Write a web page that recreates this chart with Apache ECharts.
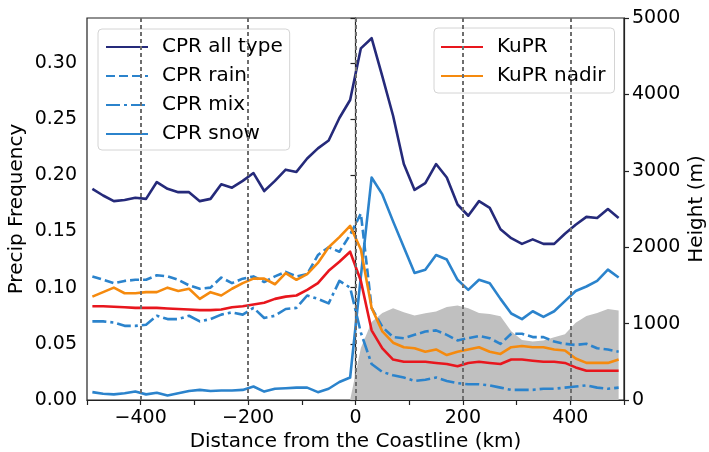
<!DOCTYPE html>
<html>
<head>
<meta charset="utf-8">
<script src="https://cdn.jsdelivr.net/npm/echarts@6/dist/echarts.min.js"></script>
<style>
  html, body { margin: 0; padding: 0; background: #fff; }
  #chart { width: 709px; height: 452px; }
</style>
</head>
<body>
<div id="chart"></div>
<script>
// distance from the coastline (km), bin centres
const distance = [-490, -470, -450, -430, -410, -390, -370, -350, -330, -310,
  -290, -270, -250, -230, -210, -190, -170, -150, -130, -110,
  -90, -70, -50, -30, -10, 10, 30, 50, 70, 90,
  110, 130, 150, 170, 190, 210, 230, 250, 270, 290,
  310, 330, 350, 370, 390, 410, 430, 450, 470, 490];

const cprAll = [0.188, 0.182, 0.177, 0.178, 0.180, 0.179, 0.194, 0.188, 0.185, 0.185,
  0.177, 0.179, 0.192, 0.189, 0.195, 0.202, 0.186, 0.195, 0.205, 0.203,
  0.215, 0.224, 0.231, 0.251, 0.267, 0.313, 0.322, 0.288, 0.253, 0.210,
  0.187, 0.193, 0.210, 0.198, 0.174, 0.164, 0.177, 0.171, 0.152, 0.144,
  0.139, 0.143, 0.139, 0.139, 0.148, 0.156, 0.163, 0.162, 0.170, 0.162];

const cprRain = [0.110, 0.107, 0.104, 0.106, 0.107, 0.107, 0.111, 0.110, 0.107, 0.102,
  0.099, 0.100, 0.109, 0.104, 0.108, 0.110, 0.105, 0.110, 0.114, 0.110,
  0.112, 0.129, 0.136, 0.132, 0.147, 0.166, 0.082, 0.065, 0.056, 0.055,
  0.058, 0.061, 0.062, 0.058, 0.053, 0.055, 0.057, 0.055, 0.050, 0.059,
  0.059, 0.056, 0.056, 0.052, 0.050, 0.049, 0.050, 0.046, 0.045, 0.043];

const cprMix = [0.070, 0.070, 0.069, 0.066, 0.066, 0.067, 0.075, 0.072, 0.072, 0.075,
  0.070, 0.072, 0.076, 0.078, 0.076, 0.082, 0.073, 0.075, 0.081, 0.082,
  0.093, 0.090, 0.086, 0.106, 0.100, 0.060, 0.032, 0.025, 0.022, 0.020,
  0.017, 0.018, 0.020, 0.017, 0.015, 0.014, 0.014, 0.013, 0.011, 0.009,
  0.009, 0.009, 0.010, 0.010, 0.011, 0.012, 0.013, 0.011, 0.010, 0.011];

const cprSnow = [0.007, 0.0055, 0.005, 0.006, 0.0075, 0.005, 0.0065, 0.004, 0.006, 0.008,
  0.009, 0.008, 0.0085, 0.0085, 0.009, 0.012, 0.0075, 0.010, 0.0105, 0.011,
  0.011, 0.007, 0.010, 0.016, 0.020, 0.110, 0.198, 0.183, 0.159, 0.136,
  0.113, 0.116, 0.129, 0.125, 0.107, 0.098, 0.107, 0.104, 0.090, 0.077,
  0.072, 0.079, 0.074, 0.079, 0.088, 0.097, 0.101, 0.106, 0.116, 0.109];

const kuPR = [0.0835, 0.0835, 0.083, 0.0825, 0.082, 0.082, 0.082, 0.0815, 0.081, 0.0805,
  0.080, 0.080, 0.0805, 0.0825, 0.0835, 0.085, 0.0865, 0.090, 0.092, 0.093,
  0.098, 0.104, 0.115, 0.123, 0.132, 0.106, 0.062, 0.046, 0.036, 0.034,
  0.034, 0.034, 0.033, 0.032, 0.030, 0.033, 0.034, 0.033, 0.032, 0.036,
  0.036, 0.035, 0.034, 0.034, 0.033, 0.029, 0.026, 0.026, 0.026, 0.026];

const kuPRNadir = [0.092, 0.096, 0.100, 0.095, 0.095, 0.096, 0.096, 0.100, 0.097, 0.099,
  0.090, 0.096, 0.093, 0.099, 0.104, 0.108, 0.108, 0.103, 0.113, 0.107,
  0.112, 0.122, 0.136, 0.145, 0.155, 0.134, 0.082, 0.061, 0.051, 0.047,
  0.046, 0.043, 0.045, 0.040, 0.043, 0.045, 0.047, 0.043, 0.041, 0.047,
  0.048, 0.047, 0.047, 0.045, 0.044, 0.037, 0.033, 0.033, 0.033, 0.036];

// surface height (m), right axis
const height = [null, null, null, null, null, null, null, null, null, null,
  null, null, null, null, null, null, null, null, null, null,
  null, null, null, null, 0, 680, 1020, 1140, 1200, 1150,
  1107, 1135, 1160, 1216, 1238, 1200, 1140, 1125, 1095, 900,
  785, 765, 780, 820, 862, 1010, 1100, 1138, 1190, 1173];

const xTicks = [-400, -200, 0, 200, 400];

const FONT = "DejaVu Sans";
const BLUE = "#2b83cc";

function pairs(ys) {
  return distance.map((d, i) => [d, ys[i]]);
}

function lineSeries(name, ys, color, dash) {
  return {
    name: name,
    type: "line",
    data: pairs(ys),
    symbol: "none",
    yAxisIndex: 0,
    z: 3,
    lineStyle: { color: color, width: 2.6, type: dash || "solid", join: "round" },
    itemStyle: { color: color },
  };
}

const chart = echarts.init(document.getElementById("chart"), null, { renderer: "canvas" });

const legendCommon = {
  orient: "vertical",
  itemWidth: 42,
  itemHeight: 14,
  itemGap: 9,
  itemStyle: { opacity: 0 },
  backgroundColor: "rgba(255,255,255,0.85)",
  borderColor: "#d4d4d4",
  borderWidth: 1,
  borderRadius: 4,
  textStyle: { fontFamily: FONT, fontSize: 20, color: "#000", padding: [0, 0, 0, 9] },
};

const axisText = { fontFamily: FONT, fontSize: 19, color: "#000" };
const nameText = { fontFamily: FONT, fontSize: 20, color: "#000" };
const spine = { color: "#222", width: 1.2 };

chart.setOption({
  animation: false,
  backgroundColor: "#fff",
  textStyle: { fontFamily: FONT },
  grid: {
    left: 87, right: 85, top: 18, bottom: 52,
    outerBoundsMode: "none",
    containLabel: false,
    show: true, borderColor: "#222", borderWidth: 1.2, backgroundColor: "transparent",
  },
  legend: [
    Object.assign({}, legendCommon, {
      data: ["CPR all type", "CPR rain", "CPR mix", "CPR snow"],
      left: 98, top: 29, padding: [8, 7, 6, 7],
    }),
    Object.assign({}, legendCommon, {
      data: ["KuPR", "KuPR nadir"],
      left: 434, top: 28, padding: [9, 9, 7, 6],
    }),
  ],
  xAxis: {
    type: "value",
    min: -500, max: 500, interval: 100,
    name: "Distance from the Coastline (km)",
    nameLocation: "middle", nameGap: 32, nameMoveOverlap: false,
    nameTextStyle: nameText,
    axisLine: { lineStyle: spine },
    axisTick: { show: true, length: 5, lineStyle: spine },
    axisLabel: Object.assign({}, axisText, {
      margin: 9,
      formatter: (v) => xTicks.includes(v) ? String(v).replace("-", "\u2212") : "",
    }),
    splitLine: { show: false },
  },
  yAxis: [
    {
      type: "value",
      min: 0, max: 0.34, interval: 0.05,
      name: "Precip Frequency",
      nameLocation: "middle", nameGap: 60, nameRotate: 90, nameMoveOverlap: false,
      nameTextStyle: nameText,
      axisLine: { show: true, lineStyle: spine },
      axisTick: { show: true, length: 5, lineStyle: spine },
      axisLabel: Object.assign({}, axisText, {
        margin: 10,
        formatter: (v) => Math.abs(v / 0.05 - Math.round(v / 0.05)) < 1e-6 ? v.toFixed(2) : "",
      }),
      splitLine: { show: false },
    },
    {
      type: "value",
      position: "right",
      min: 0, max: 5000, interval: 1000,
      name: "Height (m)",
      nameLocation: "middle", nameGap: 63, nameRotate: 90, nameMoveOverlap: false,
      nameTextStyle: nameText,
      axisLine: { show: true, lineStyle: spine },
      axisTick: { show: true, length: 5, lineStyle: spine },
      axisLabel: Object.assign({}, axisText, { margin: 8, formatter: (v) => String(v) }),
      splitLine: { show: false },
    },
  ],
  series: [
    {
      name: "Height",
      type: "line",
      yAxisIndex: 1,
      data: pairs(height),
      symbol: "none",
      z: 1,
      lineStyle: { width: 0, opacity: 0 },
      areaStyle: { color: "#c0c0c0", opacity: 1 },
      markLine: {
        silent: true,
        symbol: ["none", "none"],
        label: { show: false },
        lineStyle: { color: "#6e6e6e", width: 2, type: [4, 3] },
        data: xTicks.map((v) => ({ xAxis: v })),
      },
    },
    lineSeries("CPR all type", cprAll, "#252a7a"),
    lineSeries("CPR rain", cprRain, BLUE, [9, 4]),
    lineSeries("CPR mix", cprMix, BLUE, [14, 4, 3, 4]),
    lineSeries("CPR snow", cprSnow, BLUE),
    lineSeries("KuPR", kuPR, "#e8161d"),
    lineSeries("KuPR nadir", kuPRNadir, "#f58a0e"),
  ],
});
</script>
</body>
</html>
